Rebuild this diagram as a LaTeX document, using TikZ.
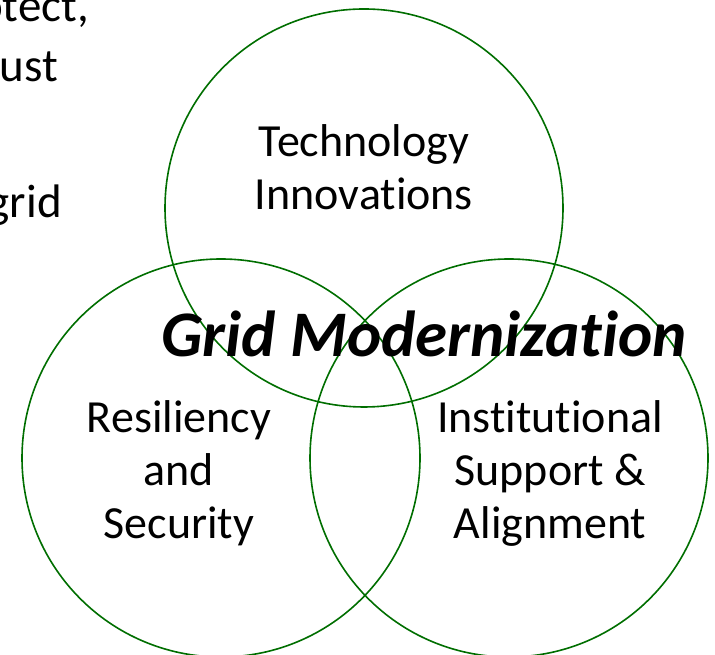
\documentclass[tikz,border=0pt]{standalone}
\usepackage{fontspec}
\setmainfont[Ligatures={NoCommon}]{Carlito}
\usetikzlibrary{positioning}
\definecolor{ring green}{RGB}{0,110,0}
\colorlet{ring colour}{ring green}
\tikzset{
    % Circles of the diagram
    ring/.style={
        draw=ring colour, circle, line width=1.6pt,
        minimum size=398pt, inner sep=0},
%
    % Texts inside the circles
    area label/.style={
        align=center, inner sep=0, font=\fontsize{46}{53}\selectfont},
    title label/.style={
        anchor=base, inner sep=0,
        font=\fontsize{65}{72}\selectfont\bfseries\itshape},
    % Left-over slide text at the edge
    edge text/.style={
        anchor=base east, inner sep=0, font=\fontsize{47}{56}\selectfont},
}
\begin{document}
\begin{tikzpicture}[x=1pt, y=1pt]
\useasboundingbox (0,0) rectangle (715,655);

\path
    (364,447) node [ring] (tech) {}
    (221,197) node [ring] (resil) {}
    (509,197) node [ring] (inst) {};

\node [area label] (techtext) at (364,488) {Technology\\Innovations};
\node [area label] (resiltext) at (179,182) {Resiliency\\and\\Security};
\node [area label] (insttext) at (550,182) {Institutional\\Support \&\\Alignment};
\node [title label] (grid) at (424,298) {Grid Modernization};

\node [edge text] (line one) at (89,633) {otect,};
\node [edge text] (line two) at (58,573) {ust};
\node [edge text] (line three) at (62,437) {grid};

\end{tikzpicture}
\end{document}
